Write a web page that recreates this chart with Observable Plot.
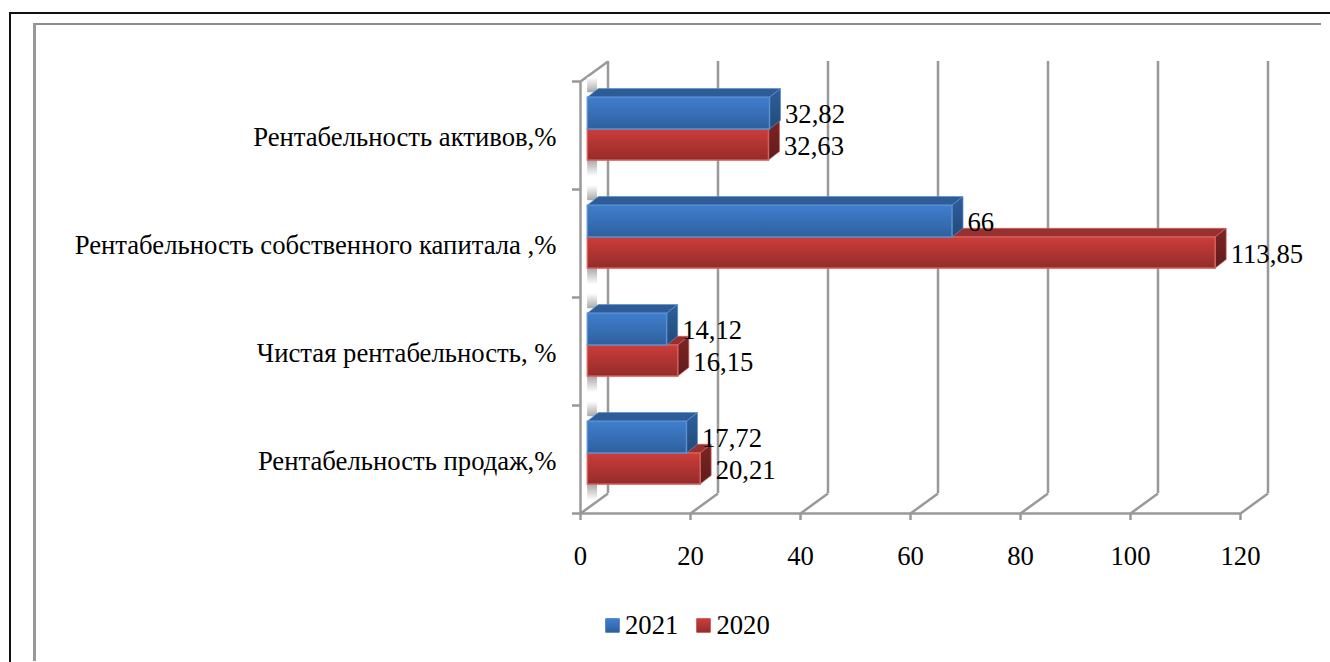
<!DOCTYPE html>
<html lang="ru">
<head>
<meta charset="utf-8">
<script src="https://cdn.jsdelivr.net/npm/d3@7"></script>
<script src="https://cdn.jsdelivr.net/npm/@observablehq/plot@0.6"></script>
<style>
  html, body { margin: 0; padding: 0; background: #fff; }
  body { width: 1330px; height: 662px; position: relative; overflow: hidden; font-family: "Liberation Serif", serif; color: #000; }
  .frame { position: absolute; }
  #outer-top { left: 9px; top: 12px; width: 1321px; height: 2px; background: #111; }
  #outer-left { left: 9px; top: 12px; width: 2px; height: 650px; background: #111; }
  #inner-top { left: 33px; top: 23px; width: 1288px; height: 2px; background: #8c8c8c; }
  #inner-left { left: 33px; top: 23px; width: 3px; height: 638px; background: #999; }
  #chart { position: absolute; left: 0; top: 0; }
  #chart svg { display: block; background: transparent; }
  #legend { position: absolute; left: 605px; top: 610px; height: 30px; display: flex; align-items: center; font-size: 26.7px; line-height: 30px; }
  .sw { display: inline-block; width: 15px; height: 15px; box-sizing: border-box; border-radius: 1px; margin-right: 5px; }
  .sw.b { background: linear-gradient(#3f7fce, #2f5f9e); border: 1px solid #5a8fcf; }
  .sw.r { background: linear-gradient(#cb3d3a, #952d2b); border: 1px solid #d8605c; margin-left: 18px; }
</style>
</head>
<body>
<div class="frame" id="outer-top"></div>
<div class="frame" id="outer-left"></div>
<div class="frame" id="inner-top"></div>
<div class="frame" id="inner-left"></div>
<div id="chart"></div>
<div id="legend"><span class="sw b"></span>2021<span class="sw r"></span>2020</div>
<script>
// Profitability indicators, listed from the bottom of the chart to the top
const categories = [
  "Рентабельность продаж,%",
  "Чистая рентабельность, %",
  "Рентабельность собственного капитала ,%",
  "Рентабельность активов,%"
];
const values2021 = [17.72, 14.12, 66, 32.82];
const values2020 = [20.21, 16.15, 113.85, 32.63];
const labels2021 = ["17,72", "14,12", "66", "32,82"];
const labels2020 = ["20,21", "16,15", "113,85", "32,63"];
const xTicks = [0, 20, 40, 60, 80, 100, 120];
const yTicks = [0, 1, 2, 3, 4];

// Chart box depth, in x units and category units
const wallX = 5, wallY = 0.185;
// Bar depth, and where the two bars sit inside a category band
const barX = 2, barY = 0.08;
const barStart = -0.3;
const faceTop = 0.85, faceMid = 0.556, faceBottom = 0.268;
const barShift = 9;
const textSize = 26.7;

const bars2021 = values2021.map((value, i) => ({i, value, label: labels2021[i], y1: i + faceMid, y2: i + faceTop}));
const bars2020 = values2020.map((value, i) => ({i, value, label: labels2020[i], y1: i + faceBottom, y2: i + faceMid}));

// Top faces are drawn as areaX, side faces as areaY, both in data coordinates
const topFace = bars => bars.flatMap(b => [
  {z: b.i, y: b.y2, x1: barStart, x2: b.value},
  {z: b.i, y: b.y2 + barY, x1: barStart + barX, x2: b.value + barX}
]);
const sideFace = bars => bars.flatMap(b => [
  {z: b.i, x: b.value, y1: b.y1, y2: b.y2},
  {z: b.i, x: b.value + barX, y1: b.y1 + barY, y2: b.y2 + barY}
]);

function solidBar(bars, c) {
  return [
    Plot.areaX(topFace(bars), {x1: "x1", x2: "x2", y: "y", z: "z", fill: c.top, stroke: c.edge, strokeWidth: 1, strokeOpacity: 0.7, dx: barShift}),
    Plot.areaY(sideFace(bars), {x: "x", y1: "y1", y2: "y2", z: "z", fill: c.side, stroke: c.edge, strokeWidth: 1, strokeOpacity: 0.7, dx: barShift}),
    Plot.rect(bars, {x1: barStart, x2: "value", y1: "y1", y2: "y2", fill: c.face, stroke: c.edge, strokeWidth: 1.5, dx: barShift})
  ];
}

// Vertical gradients shared by the bar faces and the soft shadows on the side wall
function gradients() {
  const defs = d3.create("svg:defs");
  const add = (id, a, b) => {
    const g = defs.append("linearGradient").attr("id", id).attr("x1", 0).attr("x2", 0).attr("y1", 0).attr("y2", 1);
    g.append("stop").attr("offset", "0%").attr("stop-color", a);
    g.append("stop").attr("offset", "100%").attr("stop-color", b);
  };
  add("face-blue", "#3f7fce", "#2f5f9e");
  add("face-red", "#cc3d3a", "#942c2a");
  add("side-blue", "#2d5f9c", "#234a78");
  add("side-red", "#7c2523", "#5f1c1b");
  add("glow-up", "#ffffff", "#a8a8a8");
  add("glow-down", "#a8a8a8", "#ffffff");
  return defs.node();
}

const glowAbove = categories.map((_, i) => ({y1: i + faceTop + 0.046, y2: i + faceTop + 0.185}));
const glowBelow = categories.map((_, i) => ({y1: i + faceBottom - 0.15, y2: i + faceBottom}));

const gridColor = "#999";
const chart = Plot.plot({
  width: 1330,
  height: 600,
  marginLeft: 580,
  marginRight: 90,
  marginTop: 81,
  marginBottom: 87,
  x: {domain: [0, 120]},
  y: {domain: [0, 4]},
  style: {fontFamily: "'Liberation Serif', serif", fontSize: "26.7px", background: "transparent", color: "#000"},
  marks: [
    gradients,
    // Back wall, floor and side wall of the chart box
    Plot.ruleX(xTicks, {x: d => d + wallX, y1: wallY, y2: 4 + wallY, stroke: gridColor, strokeWidth: 2.5}),
    Plot.link(xTicks, {x1: d => d, y1: 0, x2: d => d + wallX, y2: wallY, stroke: gridColor, strokeWidth: 2.5}),
    Plot.link([0], {x1: 0, y1: 4, x2: wallX, y2: 4 + wallY, stroke: gridColor, strokeWidth: 2.5}),
    Plot.ruleX([0], {y1: 0, y2: 4, stroke: gridColor, strokeWidth: 2.5}),
    Plot.ruleY([0], {x1: 0, x2: 120, stroke: gridColor, strokeWidth: 2.5}),
    Plot.axisX(xTicks, {anchor: "bottom", label: null, tickSize: 7, tickPadding: 26, stroke: gridColor, strokeWidth: 2.5, fill: "#000", fontSize: textSize}),
    Plot.axisY(yTicks, {anchor: "left", label: null, tickSize: 8, tickFormat: () => "", stroke: gridColor, strokeWidth: 2.5}),
    // Soft shadows the bars throw on the side wall
    Plot.rect(glowAbove, {x1: 1.3, x2: 3.1, y1: "y1", y2: "y2", fill: "url(#glow-up)"}),
    Plot.rect(glowBelow, {x1: 1.3, x2: 3.1, y1: "y1", y2: "y2", fill: "url(#glow-down)"}),
    // 2020 sits under 2021, so the blue bar's side overlaps the red top
    ...solidBar(bars2020, {top: "#963130", side: "url(#side-red)", face: "url(#face-red)", edge: "#d4605c"}),
    ...solidBar(bars2021, {top: "#2e5c96", side: "url(#side-blue)", face: "url(#face-blue)", edge: "#5a8fcf"}),
    // Value labels
    Plot.text(bars2021, {x: "value", y: d => (d.y1 + d.y2) / 2, text: "label", textAnchor: "start", dx: 24, dy: 1, fontSize: textSize, fill: "#000"}),
    Plot.text(bars2020, {x: "value", y: d => (d.y1 + d.y2) / 2, text: "label", textAnchor: "start", dx: 24, dy: 1, fontSize: textSize, fill: "#000"}),
    // Category names to the left of the box
    Plot.text(categories, {x: 0, y: (_, i) => i + 0.49, text: d => d, textAnchor: "end", dx: -24, dy: 1, fontSize: textSize, fill: "#000"})
  ]
});
document.getElementById("chart").append(chart);
</script>
</body>
</html>
